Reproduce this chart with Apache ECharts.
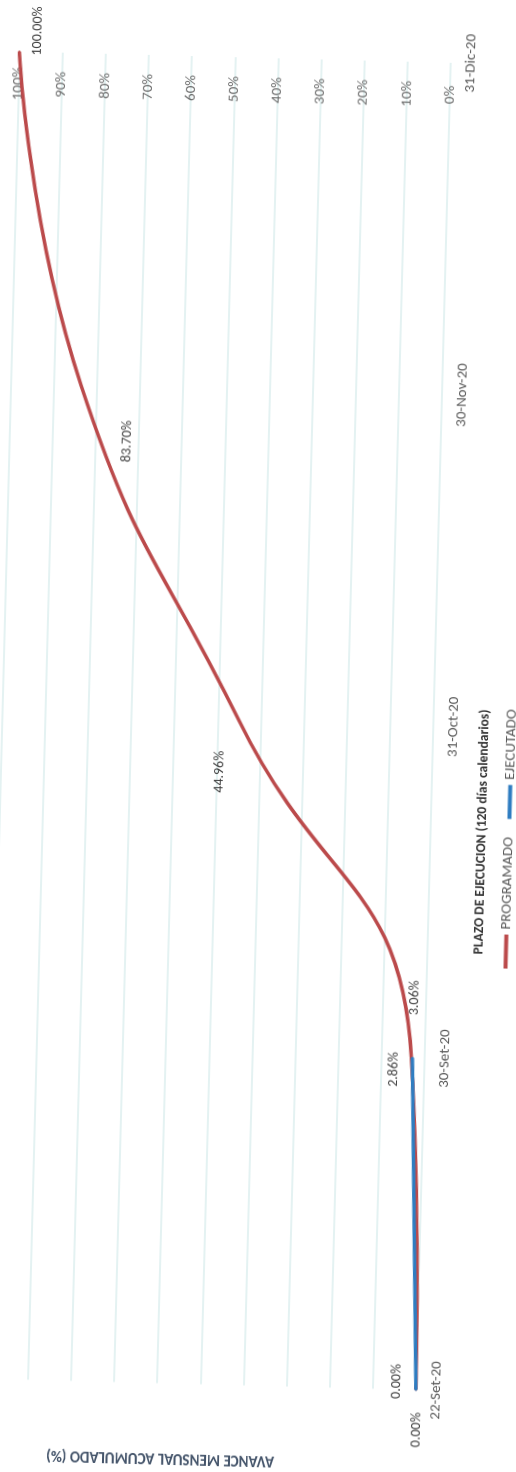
<!DOCTYPE html>
<html><head><meta charset="utf-8">
<script src="https://cdn.jsdelivr.net/npm/echarts@6/dist/echarts.min.js"></script>
<style>
html,body{margin:0;padding:0;width:516px;height:1472px;overflow:hidden;background:#fff}
#chart{position:absolute;left:-522px;top:436px;width:1560px;height:600px;transform:rotate(-88.5deg);transform-origin:50% 50%}
</style></head><body><div id="chart"></div>
<script>
const categories = ['22-Set-20', '30-Set-20', '31-Oct-20', '30-Nov-20', '31-Dic-20'];
const programado = [0, 3.06, 44.96, 83.70, 100];
const ejecutado = [0, 2.86, null, null, null];
const seriesNames = ['PROGRAMADO', 'EJECUTADO'];
const xTitle = 'PLAZO DE EJECUCION (120 días calendarios)';
const yTitle = 'AVANCE MENSUAL ACUMULADO (%)';

// label placement (styling only)
const progLabelOffsets = [[-40, 1], [60, 2], [-51, -18], [-55, 48], [21, 18]];
const ejecLabelOffsets = [[8, -20], [-12, -18]];

const FONT = 'Carlito, Lato, "Liberation Sans", sans-serif';
const chart = echarts.init(document.getElementById('chart'));

function mkData(arr, offs) {
  return arr.map((v, i) => v == null ? '-' : ({ value: v, label: { offset: offs[i] } }));
}
const labelBase = {
  show: true, position: 'inside', align: 'center', verticalAlign: 'middle',
  fontFamily: FONT, fontSize: 14, color: '#404040',
  formatter: p => Number(p.value).toFixed(2) + '%'
};

chart.setOption({
  animation: false,
  backgroundColor: '#ffffff',
  grid: { left: 130.5, right: 102, top: 43.5, bottom: 125, containLabel: false },
  xAxis: {
    type: 'category', data: categories, boundaryGap: false,
    axisLine: { show: false }, axisTick: { show: false },
    axisLabel: { interval: 0, margin: 13, fontFamily: FONT, fontSize: 15, color: '#595959' },
    splitLine: { show: false }
  },
  yAxis: {
    type: 'value', min: 0, max: 100, interval: 10, position: 'right',
    axisLine: { show: false }, axisTick: { show: false },
    axisLabel: { inside: true, align: 'center', margin: 32, fontFamily: FONT, fontSize: 15, color: '#6b6b6b', formatter: '{value}%' },
    splitLine: { show: true, lineStyle: { color: '#e4f2f2', width: 1.8 } }
  },
  legend: {
    data: seriesNames, left: 549, top: 541, orient: 'horizontal',
    icon: 'rect', itemWidth: 34, itemHeight: 4, itemGap: 18,
    textStyle: { fontFamily: FONT, fontSize: 15, color: '#595959' }
  },
  graphic: [
    { type: 'text', x: 690, y: 527, silent: true,
      style: { text: xTitle, fill: '#333333', font: 'bold 13.5px ' + FONT, align: 'center', verticalAlign: 'middle', textAlign: 'center', textVerticalAlign: 'middle' } },
    { type: 'text', x: 56, y: 221, rotation: Math.PI / 2, silent: true,
      style: { text: yTitle, fill: '#44546A', font: 'bold 15px ' + FONT, align: 'center', verticalAlign: 'middle', textAlign: 'center', textVerticalAlign: 'middle' } }
  ],
  series: [
    {
      name: seriesNames[0], type: 'line', smooth: true,
      symbol: 'circle', symbolSize: 2, showSymbol: true,
      lineStyle: { color: '#BB4A4B', width: 3.5 },
      itemStyle: { color: '#BB4A4B' },
      label: labelBase,
      data: mkData(programado, progLabelOffsets), z: 2
    },
    {
      name: seriesNames[1], type: 'line', smooth: true,
      symbol: 'circle', symbolSize: 2, showSymbol: true,
      lineStyle: { color: '#2F7DC1', width: 3.5 },
      itemStyle: { color: '#2F7DC1' },
      label: labelBase,
      data: mkData(ejecutado, ejecLabelOffsets), z: 3
    }
  ]
});
</script></body></html>
